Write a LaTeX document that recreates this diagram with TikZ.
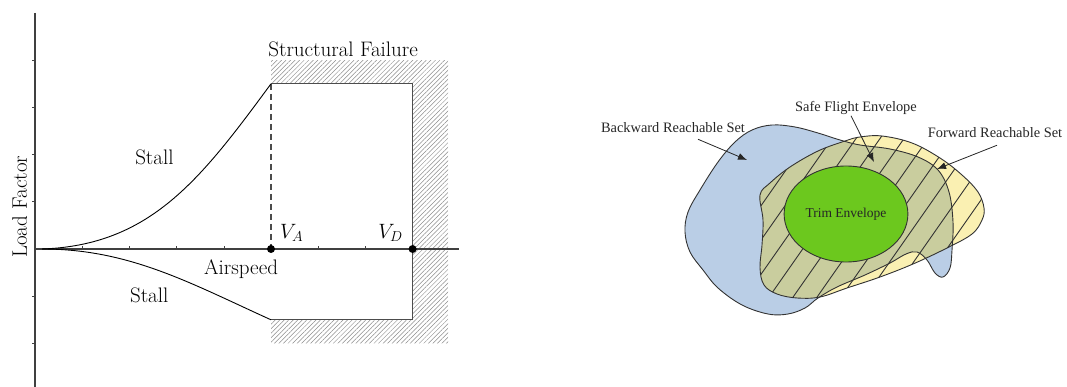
\documentclass[tikz,border=0pt]{standalone}
\usepackage{fontspec}
\newfontfamily\timesfont{Liberation Serif}
\usepackage{tikz}
\usetikzlibrary{arrows.meta, patterns.meta, shapes.geometric}

\definecolor{brsblue}{RGB}{186,206,230}
\definecolor{frsyellow}{RGB}{250,240,178}
\definecolor{sfeolive}{RGB}{201,205,158}
\definecolor{trimgreen}{RGB}{108,200,30}

\begin{document}
\begin{tikzpicture}[
  x=1pt, y=-1pt, >={Latex[length=9pt, width=7pt]},
  axis/.style={line width=1.1pt, black!75},
  tick/.style={line width=0.6pt, black!75},
  env/.style={line width=1.2pt, black!70},
  stall/.style={line width=0.9pt},
  dot/.style={circle, fill, inner sep=0pt, minimum size=8pt},
  lbl/.style={font=\fontsize{21}{25}\selectfont, inner sep=0pt},
  hatch/.style={pattern={Lines[angle=45, distance=3.2pt, line width=0.5pt]},
                pattern color=black!45},
  setedge/.style={line width=0.9pt, black!80},
  setlbl/.style={font=\timesfont\fontsize{14.4}{17}\selectfont, text=black!85, inner sep=1pt},
  pointer/.style={->, line width=0.8pt, black!85}]
  \useasboundingbox (0,0) rectangle (1067,387);

  % V-n diagram, in tick units
  \begin{scope}[shift={(35,249)}, x=47.2pt, y=47.2pt]
    % structural failure zone
    \fill[hatch] (5,4) -- (8.75,4) -- (8.75,-2) -- (5,-2) -- (5,-1.5)
      -- (8,-1.5) -- (8,3.5) -- (5,3.5) -- cycle;
    % axes
    \draw[axis] (0,5) -- (0,-2.95);
    \draw[axis] (0,0) -- (8.98,0);
    \foreach \k in {1,...,8} \draw[tick] (\k,0) -- (\k,0.06);
    \foreach \k in {-2,-1,1,2,3,4} \draw[tick] (0,\k) -- (-0.06,\k);
    % envelope
    \draw[env] (5,3.5) -- (8,3.5) -- (8,-1.5) -- (5,-1.5);
    \draw[env, dash pattern=on 6pt off 4pt] (5,3.5) -- (5,0);
    \draw[stall] (0.15,0) .. controls (2.44,0.08) and (3.5,1.46) .. (5,3.5);
    \draw[stall] (0.15,0) .. controls (2.0,0) and (3.28,-0.72) .. (5,-1.5);
    \node[dot] (va) at (5,0) {};
    \node[dot] (vd) at (8,0) {};
    % labels
    \node[lbl, anchor=base west] (vatxt) at (5.19,0.233) {$V_A$};
    \node[lbl, anchor=base west] (vdtxt) at (7.27,0.233) {$V_D$};
    \node[lbl, anchor=base west] (stallup) at (2.12,1.78) {Stall};
    \node[lbl, anchor=base west] (stalldn) at (2.01,-1.14) {Stall};
    \node[lbl, anchor=base west] (speed) at (3.58,-0.53) {Airspeed};
    \node[lbl, anchor=base west] (fail) at (4.94,4.07) {Structural Failure};
    \node[lbl, anchor=base west, rotate=90] (load) at (-0.17,-0.19) {Load Factor};
  \end{scope}

  % reachable sets
  \def\brspath{plot[smooth cycle, tension=0.6] coordinates {
    (685,232) (688,212) (700,190) (718,162) (735,142) (752,130) (772,125)
    (795,127) (818,133) (840,140) (860,145) (890,149) (918,157) (938,170)
    (949,192) (953,222) (952,250) (950,268) (943,277) (935,273) (927,260)
    (917,252) (906,254) (890,263) (865,275) (837,287) (818,298) (805,308)
    (788,314) (768,314) (742,305) (718,288) (703,270) (690,252)}}
  \def\frspath{plot[smooth cycle, tension=0.6] coordinates {
    (760,195) (763,220) (762,245) (760,268) (764,285) (777,294) (797,298)
    (820,297) (847,288) (880,277) (913,264) (947,248) (972,234) (982,220)
    (984,208) (978,192) (962,175) (940,158) (912,143) (882,136) (860,137)
    (845,141) (818,151) (790,167) (770,183)}}
  \fill[brsblue] \brspath;
  \fill[frsyellow] \frspath;
  \begin{scope}
    \clip \brspath;
    \fill[sfeolive] \frspath;
  \end{scope}
  \begin{scope}
    \clip \frspath;
    \foreach \x in {674,698,...,914} \draw[setedge] (\x,330) -- ++(161,-230);
  \end{scope}
  \draw[setedge] \brspath;
  \draw[setedge] \frspath;
  \node[ellipse, draw, setedge, fill=trimgreen, minimum width=108pt, minimum height=96pt,
        font=\timesfont\fontsize{13.5}{16}\selectfont, text=black!85] (trim) at (846,214) {Trim Envelope};

  % set labels
  \node[setlbl] (brs) at (673,128) {Backward Reachable Set};
  \node[setlbl] (sfe) at (856,108) {Safe Flight Envelope};
  \node[setlbl] (frs) at (995,133) {Forward Reachable Set};
  \coordinate (brs-tip) at (747,160);
  \coordinate (sfe-tip) at (874,162);
  \coordinate (frs-tip) at (937,169);
  \draw[pointer] ([xshift=25pt, yshift=-5pt]brs.south) -- (brs-tip);
  \draw[pointer] ([xshift=-5pt]sfe.south) -- (sfe-tip);
  \draw[pointer] ([xshift=2pt, yshift=-6pt]frs.south) -- (frs-tip);
\end{tikzpicture}
\end{document}
